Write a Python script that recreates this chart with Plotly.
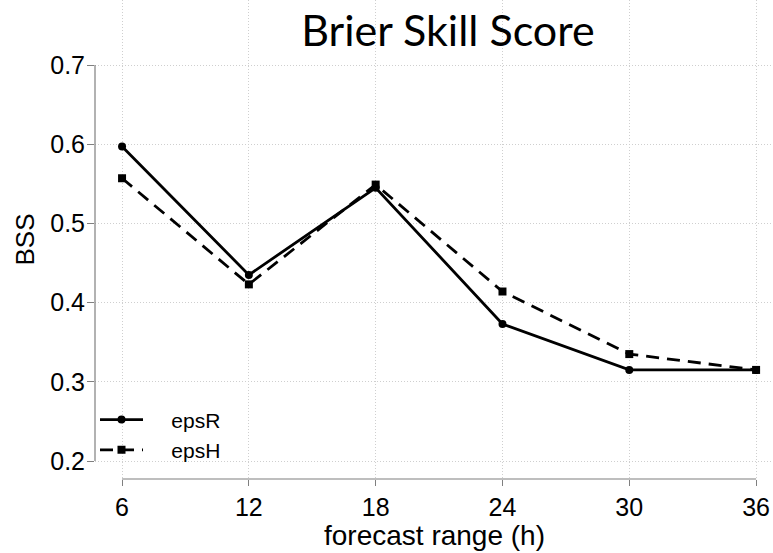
import plotly.graph_objects as go

# Forecast lead times (hours) and Brier Skill Score of the two ensembles
forecast_range = [6, 12, 18, 24, 30, 36]
bss_epsR = [0.597, 0.435, 0.545, 0.373, 0.315, 0.315]
bss_epsH = [0.557, 0.423, 0.549, 0.414, 0.335, 0.315]

y_ticks = [0.2, 0.3, 0.4, 0.5, 0.6, 0.7]
y_tick_text = ["0.2", "0.3", "0.4", "0.5", "0.6", "0.7"]

AXIS_GRAY = "#7f7f7f"
GRID_GRAY = "#cfcfcf"
GRID_DASH = "1px,2px"
SANS = "Liberation Sans, Arial, sans-serif"
TICK_FONT = dict(family=SANS, size=25, color="black")
PAD = "\u00a0" * 4  # gap between legend symbol and label

fig = go.Figure()

fig.add_trace(go.Scatter(
    x=forecast_range, y=bss_epsR, name=PAD + "epsR", mode="lines+markers",
    line=dict(color="black", width=2.8),
    marker=dict(symbol="circle", size=8, color="black"),
))
fig.add_trace(go.Scatter(
    x=forecast_range, y=bss_epsH, name=PAD + "epsH", mode="lines+markers",
    line=dict(color="black", width=2.8, dash="13px,8px"),
    marker=dict(symbol="square", size=8, color="black"),
))

# Detached axis lines spanning only the tick range
fig.add_shape(type="line", xref="paper", yref="y", x0=0, x1=0,
              y0=min(y_ticks), y1=max(y_ticks),
              line=dict(color=AXIS_GRAY, width=1.2), layer="above")
fig.add_shape(type="line", xref="x", yref="paper",
              x0=min(forecast_range), x1=max(forecast_range), y0=0, y1=0,
              line=dict(color=AXIS_GRAY, width=1.2), layer="above")

# x-axis caption placed low, just above the bottom edge
fig.add_annotation(
    text="forecast range (h)", xref="paper", yref="paper",
    x=0.5, y=-(535 - 479) / 479, xanchor="center", yanchor="middle",
    showarrow=False, font=dict(family=SANS, size=28, color="black"),
)

fig.update_layout(
    width=773, height=553,
    margin=dict(l=95, r=0, t=0, b=74, autoexpand=False),
    paper_bgcolor="white", plot_bgcolor="white",
    title=dict(
        text="Brier Skill Score",
        font=dict(family="Lato, Carlito, sans-serif", size=43, color="black"),
        xref="container", yref="container",
        x=448 / 773, xanchor="center",
        y=1 - 16 / 553, yanchor="top",
    ),
    showlegend=True,
    legend=dict(
        x=0.0, y=0.018, xanchor="left", yanchor="bottom",
        xref="paper", yref="paper",
        bgcolor="rgba(0,0,0,0)",
        font=dict(family=SANS, size=21, color="black"),
        itemwidth=43,
        tracegroupgap=0,
    ),
    xaxis=dict(
        range=[4.72, 36.80],
        automargin=False,
        tickvals=forecast_range,
        ticktext=[str(v) for v in forecast_range],
        ticks="outside", ticklen=6, tickcolor=AXIS_GRAY, tickwidth=1,
        showline=False, zeroline=False,
        showgrid=True, gridcolor=GRID_GRAY, griddash=GRID_DASH, gridwidth=1,
        tickfont=TICK_FONT,
    ),
    yaxis=dict(
        range=[0.17727, 0.78207],
        automargin=False,
        tickvals=y_ticks, ticktext=y_tick_text,
        ticks="outside", ticklen=7, tickcolor=AXIS_GRAY, tickwidth=1,
        ticklabelstandoff=-3,
        showline=False, zeroline=False,
        showgrid=True, gridcolor=GRID_GRAY, griddash=GRID_DASH, gridwidth=1,
        tickfont=TICK_FONT,
        title=dict(text="BSS",
                   font=dict(family=SANS, size=26, color="black"),
                   standoff=8),
    ),
)

fig.write_html("out.html")
